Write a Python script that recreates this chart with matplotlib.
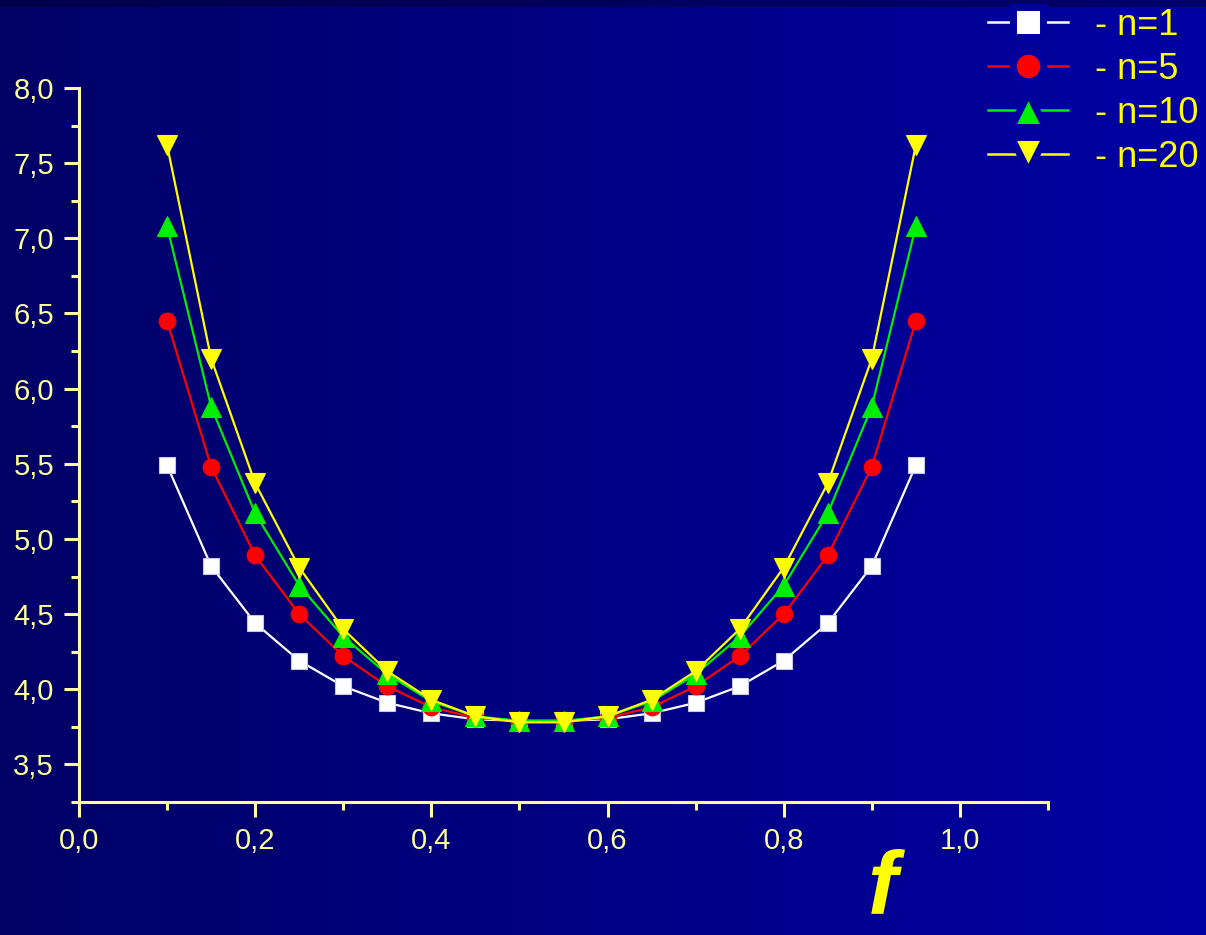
import numpy as np
import matplotlib.pyplot as plt
from matplotlib.lines import Line2D
from matplotlib.ticker import MultipleLocator, FuncFormatter

plt.rcParams['font.family'] = ['Liberation Sans', 'DejaVu Sans']

# f values and the curves for each n (symmetric about f = 0.525)
f = [0.10, 0.15, 0.20, 0.25, 0.30, 0.35, 0.40, 0.45, 0.50,
     0.55, 0.60, 0.65, 0.70, 0.75, 0.80, 0.85, 0.90, 0.95]
n1 = [5.49, 4.82, 4.44, 4.19, 4.02, 3.91, 3.84, 3.80, 3.79,
      3.79, 3.80, 3.84, 3.91, 4.02, 4.19, 4.44, 4.82, 5.49]
n5 = [6.45, 5.48, 4.89, 4.50, 4.22, 4.02, 3.88, 3.81, 3.79,
      3.79, 3.81, 3.88, 4.02, 4.22, 4.50, 4.89, 5.48, 6.45]
n10 = [7.08, 5.88, 5.17, 4.69, 4.35, 4.10, 3.92, 3.82, 3.79,
       3.79, 3.82, 3.92, 4.10, 4.35, 4.69, 5.17, 5.88, 7.08]
n20 = [7.62, 6.20, 5.37, 4.81, 4.40, 4.12, 3.93, 3.82, 3.78,
       3.78, 3.82, 3.93, 4.12, 4.40, 4.81, 5.37, 6.20, 7.62]
labels = ['- n=1', '- n=5', '- n=10', '- n=20']

axis_col = '#ffff99'
legend_bg = (0, 0, 0.62)

fig = plt.figure(figsize=(12.06, 9.35), dpi=100)

# background: horizontal blue gradient plus a darker strip on top
bg = fig.add_axes([0, 0, 1, 1], zorder=-10)
grad = np.linspace(0, 1, 256)
rgb = np.zeros((1, 256, 3))
rgb[0, :, 2] = 0.40 + 0.24 * grad
bg.imshow(rgb, aspect='auto', extent=[0, 1, 0, 1])
strip = np.zeros((1, 256, 3))
strip[0, :, 2] = 0.30 + 0.12 * grad
bg.imshow(strip, aspect='auto', extent=[0, 1, 1 - 7 / 935, 1])
bg.set_xlim(0, 1)
bg.set_ylim(0, 1)
bg.axis('off')

ax = fig.add_axes([79 / 1206, 1 - 802 / 935, (1048 - 79) / 1206, (802 - 88) / 935])
ax.set_facecolor('none')

styles = [('white', 's', 11), ('red', 'o', 12), ('#00ee00', '^', 14), ('yellow', 'v', 14)]
handles = []
for ys, (c, m, ms), lab in zip([n1, n5, n10, n20], styles, labels):
    ec = '#c8c8e0' if c == 'white' else c
    ax.plot(f, ys, color=c, lw=1.6, marker=m, ms=ms,
            markeredgecolor=ec, markeredgewidth=0.8)
    # legend handle: marker with a background-coloured rim to break the line
    handles.append(Line2D([], [], color=c, lw=1.8, marker=m, ms=ms + 10,
                          markerfacecolor=c, markeredgecolor=legend_bg,
                          markeredgewidth=5, label=lab))

ax.set_xlim(0, 1.1)
ax.set_ylim(3.25, 8.0)
ax.xaxis.set_major_locator(MultipleLocator(0.2))
ax.xaxis.set_minor_locator(MultipleLocator(0.1))
ax.yaxis.set_major_locator(MultipleLocator(0.5))
ax.yaxis.set_minor_locator(MultipleLocator(0.25))
comma = FuncFormatter(lambda v, p: ('%.1f' % v).replace('.', ','))
ax.xaxis.set_major_formatter(comma)
ax.yaxis.set_major_formatter(comma)

for s in ['top', 'right']:
    ax.spines[s].set_visible(False)
for s in ['left', 'bottom']:
    ax.spines[s].set_color(axis_col)
    ax.spines[s].set_linewidth(2.2)
ax.tick_params(which='major', length=11, width=2.2, color=axis_col,
               labelcolor=axis_col, labelsize=21, pad=7)
ax.tick_params(which='minor', length=6, width=2.2, color=axis_col)

fig.legend(handles=handles, loc='upper right',
           bbox_to_anchor=(1.0 + 14 / 1206, 1.0 + 14 / 935),
           frameon=False, fontsize=26, labelcolor='yellow',
           handlelength=2.2, handletextpad=0.75, labelspacing=0.25,
           borderaxespad=0.2)

fig.text(883 / 1206, 3 / 935, 'f', color='yellow', fontsize=64,
         fontstyle='italic', fontweight='bold', ha='center', va='bottom')

fig.savefig('out.png', dpi=100)
